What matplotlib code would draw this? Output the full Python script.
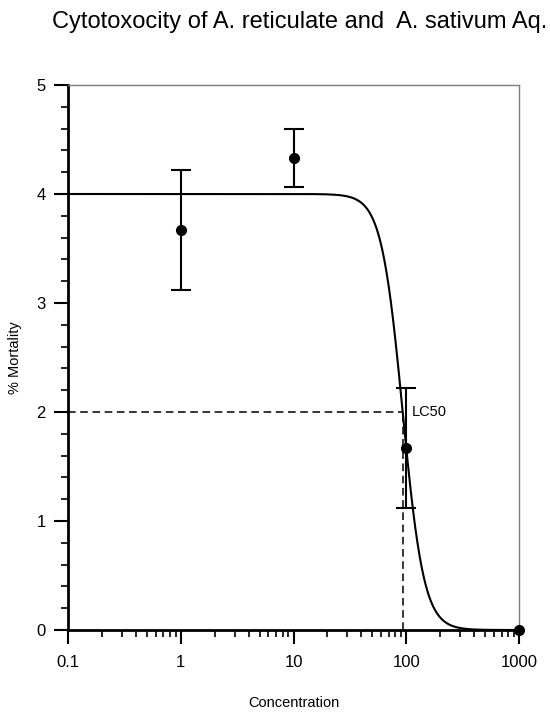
import numpy as np
import matplotlib
matplotlib.use("Agg")
import matplotlib.pyplot as plt
from matplotlib.ticker import LogLocator, MultipleLocator, FixedLocator, FixedFormatter

plt.rcParams['font.family'] = ['Liberation Sans', 'DejaVu Sans']

# measured points
conc = [1, 10, 100, 1000]
mortality = [3.67, 4.33, 1.67, 0.0]
err = [0.55, 0.27, 0.55, 0.0]

# fitted curve parameters
top = 4.0
lc50 = 93.0
hill = 4.6

x_ticks = [0.1, 1, 10, 100, 1000]
x_labels = ["0.1", "1", "10", "100", "1000"]
y_ticks = [0, 1, 2, 3, 4, 5]

fig = plt.figure(figsize=(5.5, 7.2), dpi=100)
ax = fig.add_axes([68/550, 1-630/720, (519-68)/550, (630-85)/720])

xs = np.logspace(-1, 3, 600)
ax.plot(xs, top / (1 + (xs / lc50) ** hill), color='black', lw=1.5, clip_on=False, zorder=3)

ax.errorbar(conc[:3], mortality[:3], yerr=err[:3], fmt='o', color='black', ms=7,
            elinewidth=1.5, capsize=7, capthick=1.5, zorder=4)
ax.plot(conc[3:], mortality[3:], 'o', color='black', ms=7, clip_on=False, zorder=5)

# LC50 guide lines
ax.plot([0.1, lc50], [top/2, top/2], ls=(0, (5, 3)), color='black', lw=1.1)
ax.plot([lc50, lc50], [0, top/2], ls=(0, (5, 3)), color='black', lw=1.1)
ax.text(113, top/2, "LC50", fontsize=10.5, va='center', ha='left')

ax.set_xscale('log')
ax.set_xlim(0.1, 1000)
ax.set_ylim(0, 5)
ax.xaxis.set_major_locator(FixedLocator(x_ticks))
ax.xaxis.set_major_formatter(FixedFormatter(x_labels))
ax.xaxis.set_minor_locator(LogLocator(base=10, subs=np.arange(2, 10)))
ax.yaxis.set_major_locator(FixedLocator(y_ticks))
ax.yaxis.set_minor_locator(MultipleLocator(0.2))

ax.tick_params(which='major', direction='out', length=10, width=1.5, labelsize=12, pad=6)
ax.tick_params(which='minor', direction='out', length=5, width=1.2)
ax.tick_params(axis='x', which='major', pad=8)

for s in ['left', 'bottom']:
    ax.spines[s].set_linewidth(2)
    ax.spines[s].set_color('black')
for s in ['right', 'top']:
    ax.spines[s].set_linewidth(1)
    ax.spines[s].set_color('#7f7f7f')

ax.set_xlabel("Concentration", fontsize=10.5)
ax.xaxis.set_label_coords(0.5, -0.134)
ax.xaxis.label.set_va('center')
ax.set_ylabel("% Mortality", fontsize=10.5)
ax.yaxis.set_label_coords(-0.117, 0.5)
ax.yaxis.label.set_va('center')

fig.text(300/550, 1-22/720, "Cytotoxocity of A. reticulate and  A. sativum Aq.",
         fontsize=17, ha='center', va='center')

fig.savefig("out.png", dpi=100)
